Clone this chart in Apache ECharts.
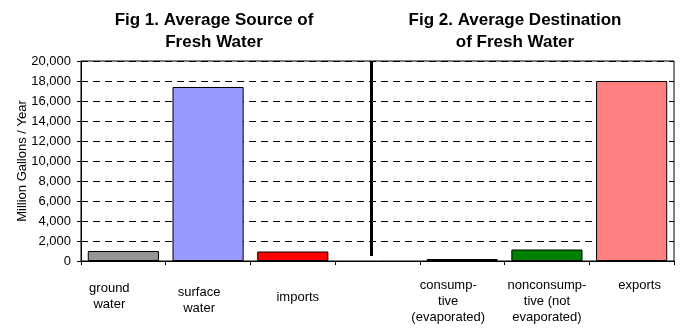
<!DOCTYPE html>
<html lang="en">
<head>
<meta charset="UTF-8">
<title>Fresh Water</title>
<script src="https://cdn.jsdelivr.net/npm/echarts@6/dist/echarts.min.js"></script>
<style>
  html, body { margin: 0; padding: 0; background: #fff; }
</style>
</head>
<body>
<div id="main" style="width:685px;height:328px;"></div>
<script>
// categories, the empty one is the gap between the two figures
var categories = ['ground\nwater', 'surface\nwater', 'imports', '',
  'consump-\ntive\n(evaporated)', 'nonconsump-\ntive (not\nevaporated)', 'exports'];
var gallons = [1000, 17400, 950, null, 200, 1150, 18000];   // million gallons / year
var titles = ['Fig 1. Average Source of\nFresh Water', 'Fig 2. Average Destination\nof Fresh Water'];
var dividerAt = 3.43;   // position of the separator, in category units

var barColors = ['#969696', '#9999ff', '#ff0000', '#ffffff', '#800080', '#008000', '#ff8080'];
// label nudges like in the original sheet: [top, right, bottom, left] padding
var labelPads = [[3, 28, 0, 0], [7, 18, 0, 0], [12, 0, 0, 10], [0, 0, 0, 0],
  [0, 28, 0, 0], [0, 0, 0, 0], [0, 0, 0, 16]];
var font = 'Liberation Sans, Arial, sans-serif';

var myChart = echarts.init(document.getElementById('main'));

var option = {
  animation: false,
  textStyle: { fontFamily: font },
  title: [
    { text: titles[0], left: 209, top: 4, textAlign: 'center',
      textStyle: { fontSize: 17, fontWeight: 'bold', color: '#000', lineHeight: 22, fontFamily: font } },
    { text: titles[1], left: 510, top: 4, textAlign: 'center',
      textStyle: { fontSize: 17, fontWeight: 'bold', color: '#000', lineHeight: 22, fontFamily: font } }
  ],
  grid: {
    left: 81, right: 11, top: 61, bottom: 67,
    show: true, borderColor: '#000', borderWidth: 1, backgroundColor: '#fff'
  },
  xAxis: [
    {
      type: 'category',
      data: categories.map(function (c, i) {
        return { value: c, textStyle: { padding: labelPads[i] } };
      }),
      axisLine: { lineStyle: { color: '#000', width: 1 } },
      axisTick: { show: true, length: 4, lineStyle: { color: '#000' } },
      axisLabel: { color: '#000', fontSize: 13, lineHeight: 16, margin: 16, interval: 0, fontFamily: font }
    },
    {
      type: 'value', min: 0, max: 7, show: false
    }
  ],
  yAxis: {
    type: 'value',
    min: 0, max: 20000, interval: 2000,
    name: 'Million Gallons / Year',
    nameLocation: 'middle',
    nameRotate: 90,
    nameGap: 52,
    nameMoveOverlap: false,
    nameTextStyle: { color: '#000', fontSize: 13, fontFamily: font },
    axisLine: { show: true, lineStyle: { color: '#000', width: 1 } },
    axisTick: { show: true, length: 4, lineStyle: { color: '#000' } },
    axisLabel: {
      color: '#000', fontSize: 13, margin: 10, fontFamily: font,
      formatter: function (v) { return v.toLocaleString('en-US'); }
    },
    splitLine: { show: true, lineStyle: { color: '#000', type: [7, 5], width: 1 } }
  },
  series: [
    {
      type: 'bar',
      data: gallons.map(function (v, i) {
        return { value: v, itemStyle: { color: barColors[i] } };
      }),
      barCategoryGap: '16%',
      itemStyle: { borderColor: '#000', borderWidth: 1 }
    },
    {
      type: 'scatter',
      xAxisIndex: 1,
      data: [],
      markLine: {
        silent: true,
        symbol: 'none',
        label: { show: false },
        lineStyle: { color: '#000', width: 3, type: 'solid' },
        data: [[{ coord: [dividerAt, 20000] }, { coord: [dividerAt, 500] }]]
      }
    }
  ]
};

myChart.setOption(option);
</script>
</body>
</html>
